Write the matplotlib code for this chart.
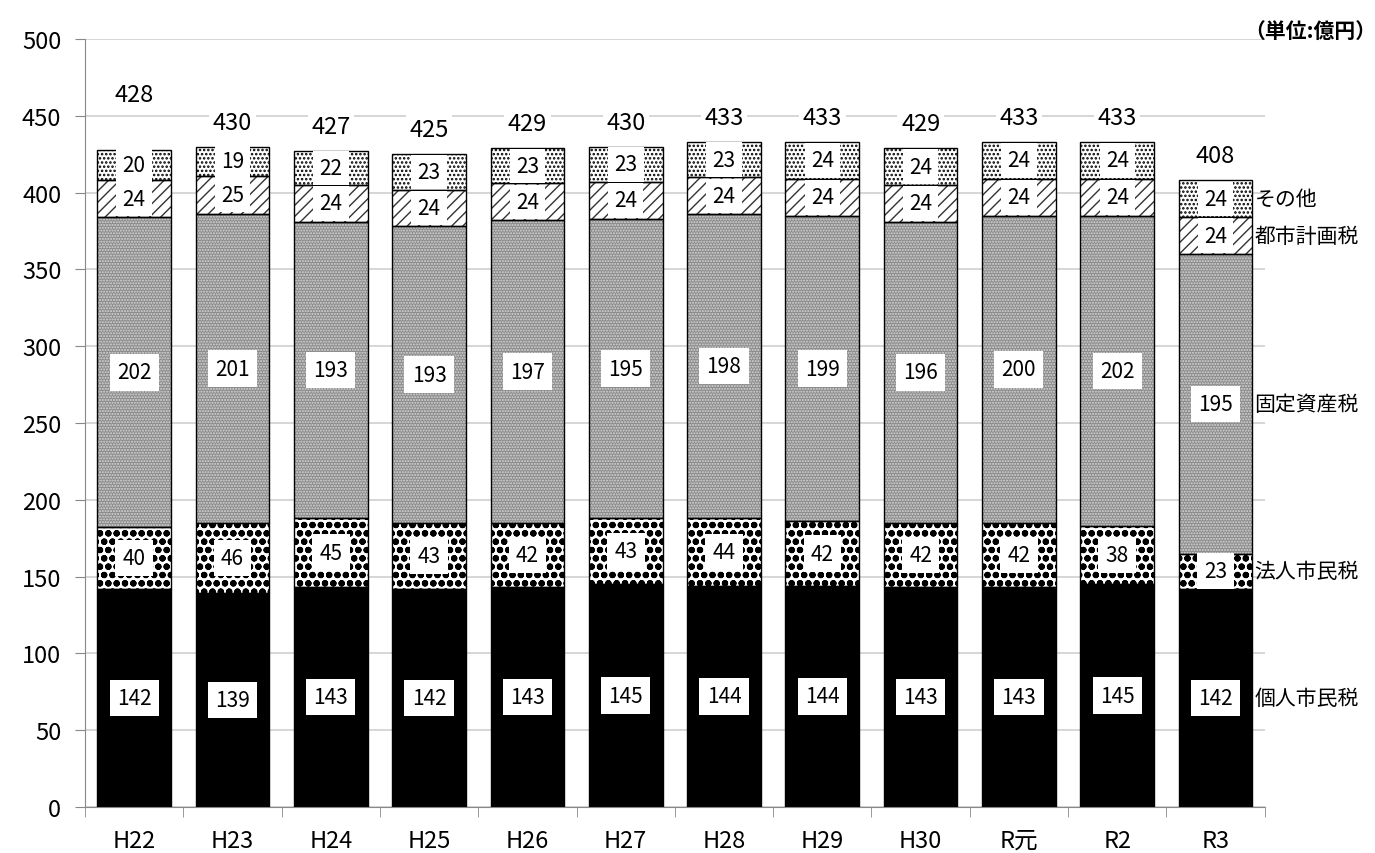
import matplotlib
matplotlib.use("Agg")
import matplotlib.pyplot as plt
import numpy as np

plt.rcParams['font.family'] = ['Noto Sans CJK JP', 'DejaVu Sans']
plt.rcParams['hatch.linewidth'] = 1.0

# data
years = ["H22", "H23", "H24", "H25", "H26", "H27", "H28", "H29", "H30", "R元", "R2", "R3"]
kojin = [142, 139, 143, 142, 143, 145, 144, 144, 143, 143, 145, 142]
hojin = [40, 46, 45, 43, 42, 43, 44, 42, 42, 42, 38, 23]
kotei = [202, 201, 193, 193, 197, 195, 198, 199, 196, 200, 202, 195]
toshi = [24, 25, 24, 24, 24, 24, 24, 24, 24, 24, 24, 24]
sonota = [20, 19, 22, 23, 23, 23, 23, 24, 24, 24, 24, 24]
totals = [428, 430, 427, 425, 429, 430, 433, 433, 429, 433, 433, 408]
series_names = ["個人市民税", "法人市民税", "固定資産税", "都市計画税", "その他"]

fig = plt.figure(figsize=(13.75, 8.54), dpi=100)
ax = fig.add_axes([0.0618, 0.054, 0.858, 0.899])

x = np.arange(len(years))
w = 0.75
series = [kojin, hojin, kotei, toshi, sonota]
styles = [
    dict(facecolor="black", hatch=None, hcolor="black", hlw=1.0, pad=0.35),
    dict(facecolor="white", hatch="oo", hcolor="black", hlw=2.2, pad=0.35),
    dict(facecolor="#8a8a8a", hatch="......", hcolor="#d8d8d8", hlw=1.0, pad=0.35),
    dict(facecolor="white", hatch="///", hcolor="#333333", hlw=1.0, pad=0.3),
    dict(facecolor="white", hatch="....", hcolor="black", hlw=1.2, pad=0.3),
]

bottom = np.zeros(len(years))
for vals, st in zip(series, styles):
    vals = np.array(vals)
    # fill + hatch
    with plt.rc_context({"hatch.linewidth": st["hlw"]}):
        ax.bar(x, vals, w, bottom=bottom, color=st["facecolor"], edgecolor=st["hcolor"],
               hatch=st["hatch"], linewidth=0, zorder=2)
    # outline
    ax.bar(x, vals, w, bottom=bottom, fill=False, edgecolor="black", linewidth=1.0, zorder=3)
    for xi, b, v in zip(x, bottom, vals):
        ax.text(xi, b + v / 2, str(v), ha="center", va="center", fontsize=15, zorder=5,
                bbox=dict(boxstyle="square,pad=%s" % st["pad"], fc="white", ec="none"))
    bottom = bottom + vals

# totals
for i, (xi, t) in enumerate(zip(x, totals)):
    off = 36 if i == 0 else 16
    ax.text(xi, t + off, str(t), ha="center", va="center", fontsize=17, zorder=5,
            bbox=dict(boxstyle="square,pad=0.15", fc="white", ec="none"))

# series labels to the right of the last bar
last = 0
for name, vals in zip(series_names, series):
    ax.text(x[-1] + w / 2 + 0.02, last + vals[-1] / 2, name, ha="left", va="center",
            fontsize=15, zorder=5, clip_on=False)
    last += vals[-1]

ax.set_xlim(-0.5, len(years) - 0.5)
ax.set_ylim(0, 500)
ax.set_yticks(np.arange(0, 501, 50))
ax.set_xticks(x)
ax.set_xticklabels(years)
ax.set_xticks(np.arange(-0.5, len(years), 1), minor=True)
ax.tick_params(axis="x", which="major", length=0, labelsize=17, pad=16)
ax.tick_params(axis="x", which="minor", length=7, color="#888888")
ax.tick_params(axis="y", length=7, color="#888888", labelsize=17, pad=10)
ax.yaxis.grid(True, color="#d0d0d0", linewidth=1.2, zorder=0)
ax.set_axisbelow(True)
for s in ["top", "right"]:
    ax.spines[s].set_visible(False)
ax.spines["left"].set_color("#888888")
ax.spines["bottom"].set_color("#888888")

fig.text(0.953, 0.963, "（単位:億円）", ha="center", va="center", fontsize=15, fontweight="bold")

fig.savefig("out.png", dpi=100)
